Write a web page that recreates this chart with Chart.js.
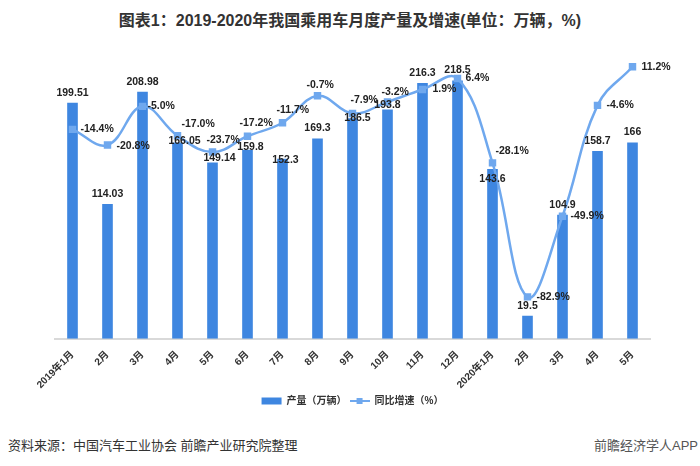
<!DOCTYPE html>
<html>
<head>
<meta charset="utf-8">
<script src="https://cdn.jsdelivr.net/npm/chart.js@4"></script>
<style>
  body { margin: 0; background: #fff; font-family: "Liberation Sans", "Noto Sans CJK SC", sans-serif; }
  #wrap { position: relative; width: 700px; height: 466px; }
  #title { position: absolute; top: 7px; left: 0; width: 700px; text-align: center; font-size: 16px; font-weight: bold; color: #333; }
  #chartBox { position: absolute; top: 0; left: 0; width: 700px; height: 416px; }
  #source { position: absolute; left: 8px; top: 435px; font-size: 13px; color: #333; }
  #app { position: absolute; right: 2px; top: 435px; font-size: 13px; color: #555; }
</style>
</head>
<body>
<div id="wrap">
  <div id="title">图表1：2019-2020年我国乘用车月度产量及增速(单位：万辆，%)</div>
  <div id="chartBox"><canvas id="myChart"></canvas></div>
  <div id="source">资料来源：中国汽车工业协会 前瞻产业研究院整理</div>
  <div id="app">前瞻经济学人APP</div>
</div>
<script>
var months = ['2019年1月', '2月', '3月', '4月', '5月', '6月', '7月', '8月', '9月', '10月', '11月', '12月',
    '2020年1月', '2月', '3月', '4月', '5月'];
var production = [199.51, 114.03, 208.98, 166.05, 149.14, 159.8, 152.3, 169.3, 186.5, 193.8, 216.3, 218.5,
    143.6, 19.5, 104.9, 158.7, 166];
var growth = [-14.4, -20.8, -5.0, -17.0, -23.7, -17.2, -11.7, -0.7, -7.9, -3.2, 1.9, 6.4,
    -28.1, -82.9, -49.9, -4.6, 11.2];

var barColor = '#3e86e0';
var lineColor = '#6fa8ee';
var fontFamily = '"Liberation Sans", "Noto Sans CJK SC", sans-serif';
var labelFont = 'bold 10.5px ' + fontFamily;

// label nudges, the original moved some labels by hand so they don't sit on the line
var barLabelShift = { 3: [7, 9], 4: [7, 6], 5: [3, 7], 6: [3, 11], 8: [5, 10], 9: [0, 5], 12: [0, 20] };
var lineLabelShift = { 1: [9, 1], 2: [5, 0], 3: [4, -12], 4: [-6, -12], 5: [-8, -13], 6: [-6, -13],
    7: [-11, -11], 8: [-2, -13], 9: [-6, -10], 10: [10, 0], 12: [3, -12], 13: [9, 0], 15: [9, 0], 16: [9, 0] };

// legend icon for the line: short line with a square marker
function lineIcon() {
    var c = document.createElement('canvas');
    c.width = 20;
    c.height = 8;
    var g = c.getContext('2d');
    g.fillStyle = lineColor;
    g.fillRect(0, 3, 20, 2);
    g.fillRect(7, 1, 6, 6);
    return c;
}

var valueLabels = {
    id: 'valueLabels',
    afterDatasetsDraw(chart) {
        var ctx = chart.ctx;
        ctx.save();
        ctx.font = labelFont;
        ctx.fillStyle = '#222';
        ctx.textBaseline = 'middle';
        chart.getDatasetMeta(0).data.forEach((bar, i) => {
            var s = barLabelShift[i] || [0, 0];
            ctx.textAlign = 'center';
            ctx.fillText(String(production[i]), bar.x + s[0], bar.y - 10 + s[1]);
        });
        chart.getDatasetMeta(1).data.forEach((pt, i) => {
            var s = lineLabelShift[i] || [8, 0];
            ctx.textAlign = 'left';
            ctx.fillText(growth[i].toFixed(1) + '%', pt.x + s[0], pt.y + s[1]);
        });
        ctx.restore();
    }
};

var ctx = document.getElementById('myChart').getContext('2d');
var myChart = new Chart(ctx, {
    type: 'bar',
    data: {
        labels: months,
        datasets: [{
            type: 'bar',
            label: '产量（万辆）',
            data: production,
            backgroundColor: barColor,
            yAxisID: 'y',
            order: 2,
            categoryPercentage: 0.8,
            barPercentage: 0.38
        }, {
            type: 'line',
            label: '同比增速（%）',
            data: growth,
            borderColor: lineColor,
            backgroundColor: lineColor,
            borderWidth: 2.5,
            pointStyle: 'rect',
            pointRadius: 3.5,
            pointBackgroundColor: lineColor,
            tension: 0.4,
            clip: false,
            yAxisID: 'y2',
            order: 1
        }]
    },
    options: {
        responsive: true,
        maintainAspectRatio: false,
        animation: false,
        layout: { padding: { top: 55, left: 55, right: 50, bottom: 0 } },
        plugins: {
            legend: {
                position: 'bottom',
                labels: {
                    usePointStyle: true,
                    pointStyleWidth: 20,
                    boxHeight: 7,
                    padding: 3,
                    color: '#333',
                    sort: (a, b) => a.datasetIndex - b.datasetIndex,
                    font: { size: 10, weight: 'bold', family: fontFamily },
                    generateLabels(chart) {
                        var items = Chart.defaults.plugins.legend.labels.generateLabels(chart);
                        items.forEach(item => {
                            if (item.datasetIndex === 0) {
                                item.pointStyle = 'rect';
                                item.lineWidth = 0;
                            } else {
                                item.pointStyle = lineIcon();
                            }
                        });
                        return items;
                    }
                }
            },
            tooltip: { enabled: false }
        },
        scales: {
            x: {
                grid: { display: false },
                border: { display: true, color: '#d9d9d9', width: 2 },
                ticks: {
                    minRotation: 45,
                    maxRotation: 45,
                    padding: 2,
                    color: '#333',
                    font: { size: 10, weight: 'bold', family: fontFamily }
                }
            },
            y: { display: false, min: 0, max: 240 },
            y2: { display: false, min: -100, max: 16 }
        }
    },
    plugins: [valueLabels]
});
</script>
</body>
</html>
